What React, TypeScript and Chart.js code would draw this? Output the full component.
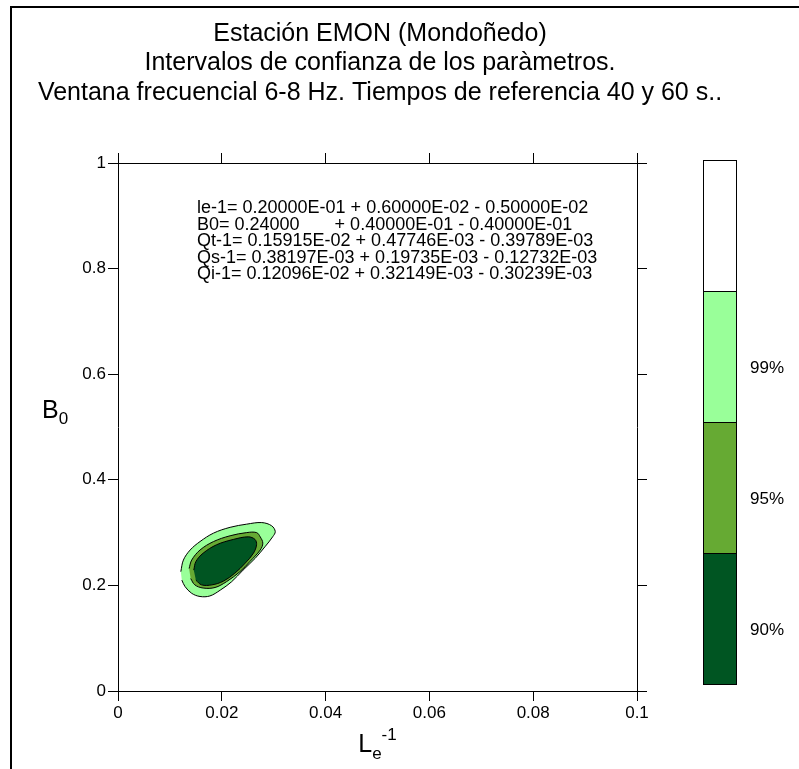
import React, { useEffect, useRef } from 'react';
import { Chart, registerables } from 'chart.js';

Chart.register(...registerables);

const FONT = '"Liberation Sans", Arial, Helvetica, sans-serif';

const titleLines = [
  'Estación EMON (Mondoñedo)',
  'Intervalos de confianza de los paràmetros.',
  'Ventana frecuencial 6-8 Hz. Tiempos de referencia 40 y 60 s..',
];

const paramLines = [
  'le-1= 0.20000E-01 + 0.60000E-02 - 0.50000E-02',
  'B0= 0.24000       + 0.40000E-01 - 0.40000E-01',
  'Qt-1= 0.15915E-02 + 0.47746E-03 - 0.39789E-03',
  'Qs-1= 0.38197E-03 + 0.19735E-03 - 0.12732E-03',
  'Qi-1= 0.12096E-02 + 0.32149E-03 - 0.30239E-03',
];

const xTicks = [0, 0.02, 0.04, 0.06, 0.08, 0.1];
const yTicks = [0, 0.2, 0.4, 0.6, 0.8, 1];

const levelLabels = ['90%', '95%', '99%'];
const levelColors = ['#005522', '#66AA33', '#99FF99'];

// 99% confidence contour (outer)
const c99X = [0.0121, 0.0126, 0.0139, 0.0158, 0.0184, 0.0216, 0.0248, 0.0277, 0.0296, 0.0303, 0.0298, 0.0283, 0.0264, 0.0241, 0.0219, 0.0197, 0.0177, 0.0158, 0.0142, 0.0129, 0.0123];
const c99Y = [0.226, 0.248, 0.267, 0.283, 0.299, 0.310, 0.316, 0.319, 0.313, 0.302, 0.292, 0.273, 0.251, 0.229, 0.207, 0.191, 0.180, 0.179, 0.185, 0.198, 0.210];
// 95% confidence contour (middle)
const c95X = [0.0137, 0.0142, 0.0158, 0.0184, 0.0216, 0.0248, 0.0267, 0.0274, 0.0279, 0.0274, 0.0254, 0.0235, 0.0209, 0.0187, 0.0164, 0.0148, 0.0140];
const c95Y = [0.232, 0.248, 0.267, 0.283, 0.294, 0.300, 0.300, 0.292, 0.280, 0.267, 0.245, 0.226, 0.207, 0.196, 0.195, 0.201, 0.213];
// 90% confidence contour (inner)
const c90X = [0.0146, 0.0150, 0.0164, 0.0190, 0.0222, 0.0251, 0.0264, 0.0267, 0.0261, 0.0245, 0.0225, 0.0203, 0.0181, 0.0161, 0.0150];
const c90Y = [0.229, 0.245, 0.261, 0.277, 0.287, 0.292, 0.287, 0.277, 0.261, 0.242, 0.223, 0.208, 0.201, 0.201, 0.210];

const toPts = (xs: number[], ys: number[]) => xs.map((x, i) => ({ x, y: ys[i] }));

const loopPlugin = {
  id: 'loopContours',
  afterDatasetsUpdate(chart: any) {
    chart.data.datasets.forEach((_d: any, i: number) => {
      const meta = chart.getDatasetMeta(i);
      if (meta && meta.dataset) meta.dataset._loop = true;
    });
  },
};

const decorPlugin = {
  id: 'decor',
  afterDraw(chart: any) {
    const ctx = chart.ctx as CanvasRenderingContext2D;
    const area = chart.chartArea;
    ctx.save();
    // outer frame
    ctx.strokeStyle = '#000';
    ctx.lineWidth = 2;
    ctx.beginPath();
    ctx.moveTo(11, 780);
    ctx.lineTo(11, 7);
    ctx.lineTo(810, 7);
    ctx.stroke();

    ctx.fillStyle = '#000';
    // title
    ctx.font = `25px ${FONT}`;
    ctx.textAlign = 'center';
    ctx.textBaseline = 'alphabetic';
    titleLines.forEach((t, i) => ctx.fillText(t, 380, 41 + i * 29.3));

    // parameter text
    ctx.font = `18px ${FONT}`;
    ctx.textAlign = 'left';
    paramLines.forEach((t, i) => ctx.fillText(t, area.left + 79, area.top + 50 + i * 16.6));

    // y axis title B0
    ctx.font = `25px ${FONT}`;
    ctx.fillText('B', 42, 418);
    const bw = ctx.measureText('B').width;
    ctx.font = `17px ${FONT}`;
    ctx.fillText('0', 42 + bw, 424);

    // x axis title Le-1
    const cx = (area.left + area.right) / 2;
    ctx.font = `25px ${FONT}`;
    const lw = ctx.measureText('L').width;
    ctx.font = `17px ${FONT}`;
    const ew = ctx.measureText('e').width;
    const sw = ctx.measureText('-1').width;
    const start = cx - (lw + ew + sw) / 2;
    ctx.font = `25px ${FONT}`;
    ctx.fillText('L', start, 752);
    ctx.font = `17px ${FONT}`;
    ctx.fillText('e', start + lw, 759);
    ctx.fillText('-1', start + lw + ew, 740);

    // colour scale
    const bx = 703, bwid = 33, segH = 131, bottom = 684;
    ctx.lineWidth = 1;
    ctx.strokeStyle = '#000';
    ctx.font = `17px ${FONT}`;
    ctx.textAlign = 'center';
    ctx.textBaseline = 'middle';
    for (let i = 0; i <= levelLabels.length; i++) {
      const y0 = bottom - (i + 1) * segH;
      ctx.fillStyle = i < levelColors.length ? levelColors[i] : '#ffffff';
      ctx.fillRect(bx, y0, bwid, segH);
      ctx.strokeRect(bx + 0.5, y0 + 0.5, bwid, segH);
      if (i < levelLabels.length) {
        ctx.fillStyle = '#000';
        ctx.fillText(levelLabels[i], 767, y0 + segH / 2 + 12);
      }
    }
    ctx.restore();
  },
};

const tickFont = { family: FONT, size: 17 };

export default function App() {
  const ref = useRef<HTMLCanvasElement | null>(null);

  useEffect(() => {
    if (!ref.current) return;
    const mk = (label: string, xs: number[], ys: number[], color: string, order: number) => ({
      label,
      data: toPts(xs, ys),
      showLine: true,
      fill: 'shape',
      backgroundColor: color,
      borderColor: '#000',
      borderWidth: 1,
      pointRadius: 0,
      tension: 0.35,
      order,
    });

    const axisCommon = (pos: string, showLabels: boolean, ticksArr: number[]) => ({
      type: 'linear',
      position: pos,
      border: { display: true, color: '#000', width: 1 },
      grid: { drawOnChartArea: false, drawTicks: true, tickLength: 10, color: '#000', lineWidth: 1 },
      ticks: {
        display: showLabels,
        color: '#000',
        font: tickFont,
        padding: 2,
        maxRotation: 0,
        autoSkip: false,
        callback: (v: any) => String(v),
      },
      afterBuildTicks: (s: any) => {
        s.ticks = ticksArr.map((v) => ({ value: v }));
      },
    });

    const chart = new Chart(ref.current, {
      type: 'scatter',
      data: {
        datasets: [
          mk('90%', c90X, c90Y, levelColors[0], 1),
          mk('95%', c95X, c95Y, levelColors[1], 2),
          mk('99%', c99X, c99Y, levelColors[2], 3),
        ] as any,
      },
      options: {
        animation: false,
        responsive: false,
        events: [],
        layout: { padding: { left: 58, right: 150, top: 151, bottom: 28 } },
        plugins: { legend: { display: false }, tooltip: { enabled: false }, title: { display: false } },
        scales: {
          x: { ...axisCommon('bottom', true, xTicks), min: 0, max: 0.1, afterFit: (s: any) => { s.height = 50; } },
          x2: { ...axisCommon('top', false, xTicks), min: 0, max: 0.1, afterFit: (s: any) => { s.height = 12; } },
          y: { ...axisCommon('left', true, yTicks), min: 0, max: 1, afterFit: (s: any) => { s.width = 60; } },
          y2: { ...axisCommon('right', false, yTicks), min: 0, max: 1, afterFit: (s: any) => { s.width = 12; } },
        } as any,
      },
      plugins: [loopPlugin, decorPlugin],
    });
    return () => chart.destroy();
  }, []);

  return (
    <div style={{ position: 'absolute', left: 0, top: 0, width: 799, height: 769, background: '#fff' }}>
      <canvas ref={ref} width={799} height={769} style={{ display: 'block' }} />
    </div>
  );
}
